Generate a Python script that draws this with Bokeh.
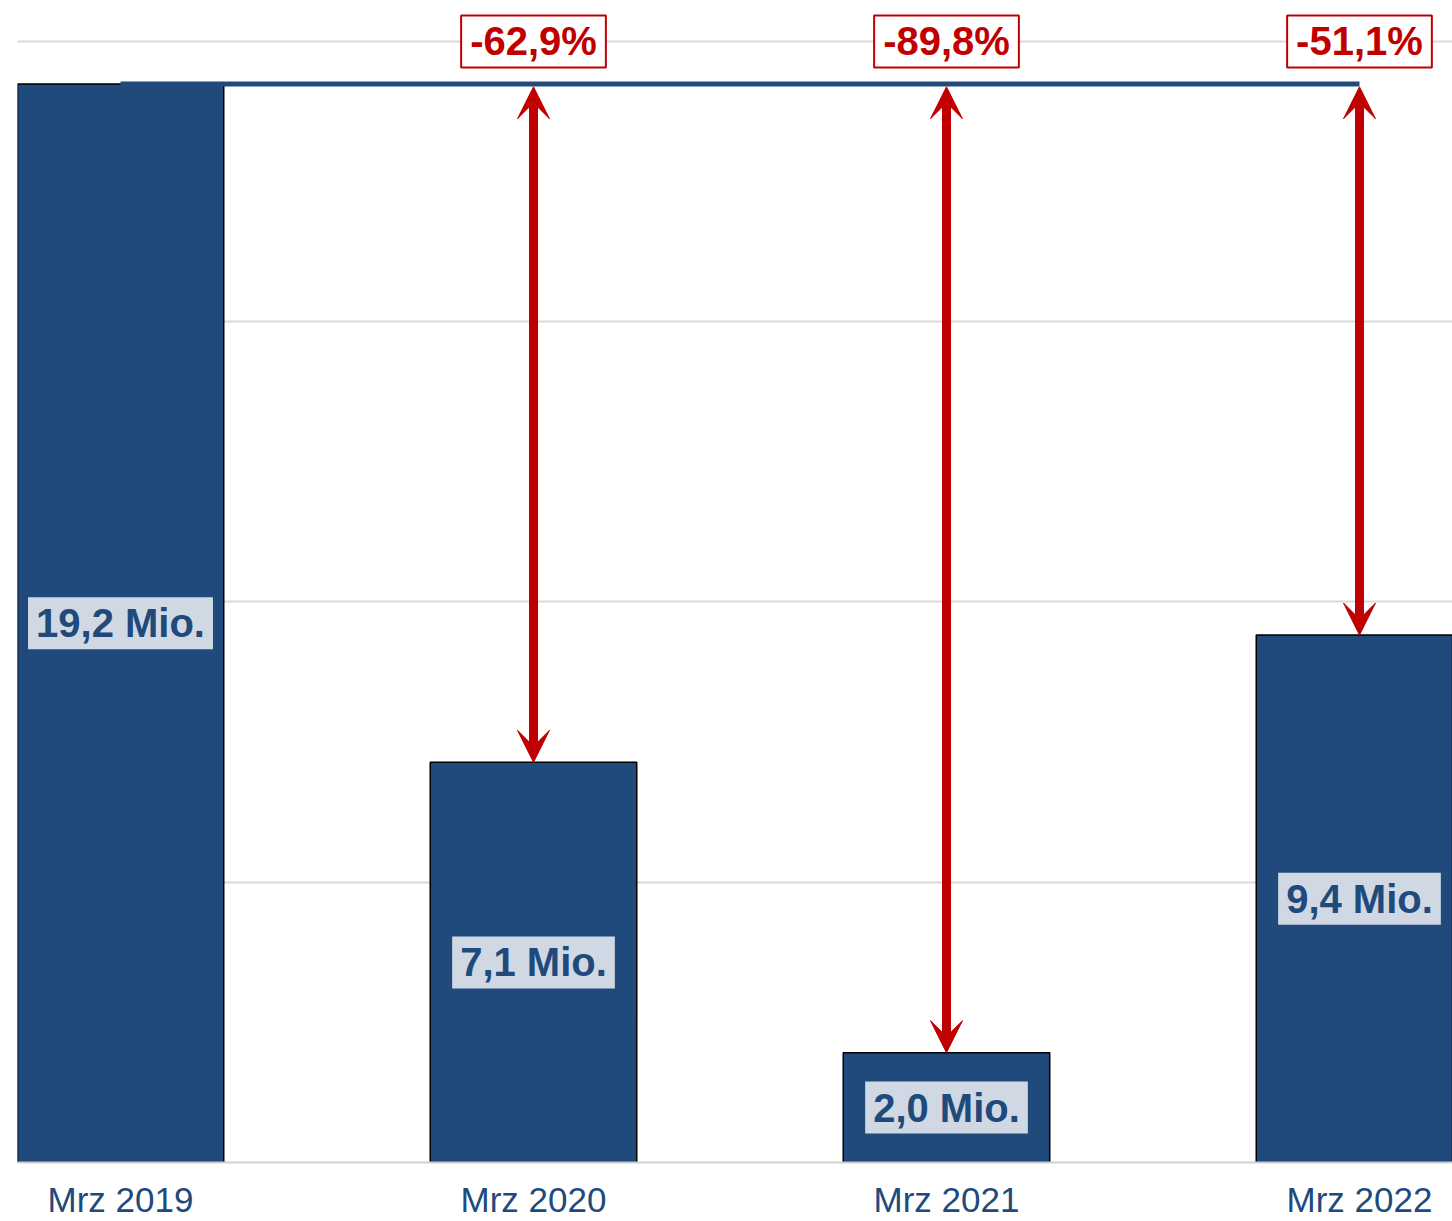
from bokeh.plotting import figure
from bokeh.models import ColumnDataSource, Range1d, FixedTicker, Arrow, VeeHead
from bokeh.core.properties import value
from bokeh.embed import file_html
from bokeh.resources import INLINE

categories = ["Mrz 2019", "Mrz 2020", "Mrz 2021", "Mrz 2022"]
values = [19.24, 7.14, 1.96, 9.41]
changes = ["-62,9%", "-89,8%", "-51,1%"]

BLUE = "#204a7c"
RED = "#c00000"
FONT = "Liberation Sans"

xs = list(range(len(categories)))
labels = [f"{v:.1f}".replace(".", ",") + " Mio." for v in values]

p = figure(width=1452, height=1221, output_backend="svg", toolbar_location=None,
           x_range=Range1d(-0.2494, 3.2252), y_range=Range1d(0, 20.73),
           min_border_left=17, min_border_right=0, min_border_top=0, min_border_bottom=59)
p.outline_line_color = None
p.background_fill_color = "white"
p.border_fill_color = "white"

p.yaxis.visible = False
p.xgrid.grid_line_color = None
p.ygrid.ticker = FixedTicker(ticks=[0, 5, 10, 15, 20])
p.ygrid.grid_line_color = "#d9d9d9"
p.ygrid.grid_line_width = 2

p.xaxis.ticker = FixedTicker(ticks=xs)
p.xaxis.major_label_overrides = {i: c for i, c in zip(xs, categories)}
p.xaxis.major_label_text_font = FONT
p.xaxis.major_label_text_font_size = "35px"
p.xaxis.major_label_text_color = BLUE
p.xaxis.major_label_standoff = 11
p.xaxis.axis_line_color = "#d0d0d0"
p.xaxis.axis_line_width = 2
p.xaxis.major_tick_line_color = None
p.xaxis.minor_tick_line_color = None

src = ColumnDataSource(dict(x=xs, top=values, mid=[v / 2 for v in values], label=labels))
p.vbar(x="x", top="top", width=0.5, source=src, fill_color=BLUE, line_color="black", line_width=1.5)

p.line(x=[xs[0], xs[-1]], y=[values[0], values[0]], line_color=BLUE, line_width=5)

for i in range(1, len(values)):
    p.add_layout(Arrow(x_start=xs[i], y_start=values[0] - 0.05, x_end=xs[i], y_end=values[i],
                       line_color=RED, line_width=9,
                       start=VeeHead(size=32, fill_color=RED, line_color=RED, line_width=1),
                       end=VeeHead(size=32, fill_color=RED, line_color=RED, line_width=1)))

p.text(x="x", y="mid", text="label", source=src, text_font=value(FONT), text_font_style="bold",
       text_font_size="40px", text_color=BLUE, text_align="center", text_baseline="middle",
       background_fill_color="#d0d8e4", padding=(8, 4))

csrc = ColumnDataSource(dict(x=xs[1:], y=[20] * len(changes), label=changes))
p.text(x="x", y="y", text="label", source=csrc, text_font=value(FONT), text_font_style="bold",
       text_font_size="40px", text_color=RED, text_align="center", text_baseline="middle",
       background_fill_color="white", border_line_color=RED, border_line_width=2, padding=(9, 4))

open("out.html", "w").write(file_html(p, INLINE))
